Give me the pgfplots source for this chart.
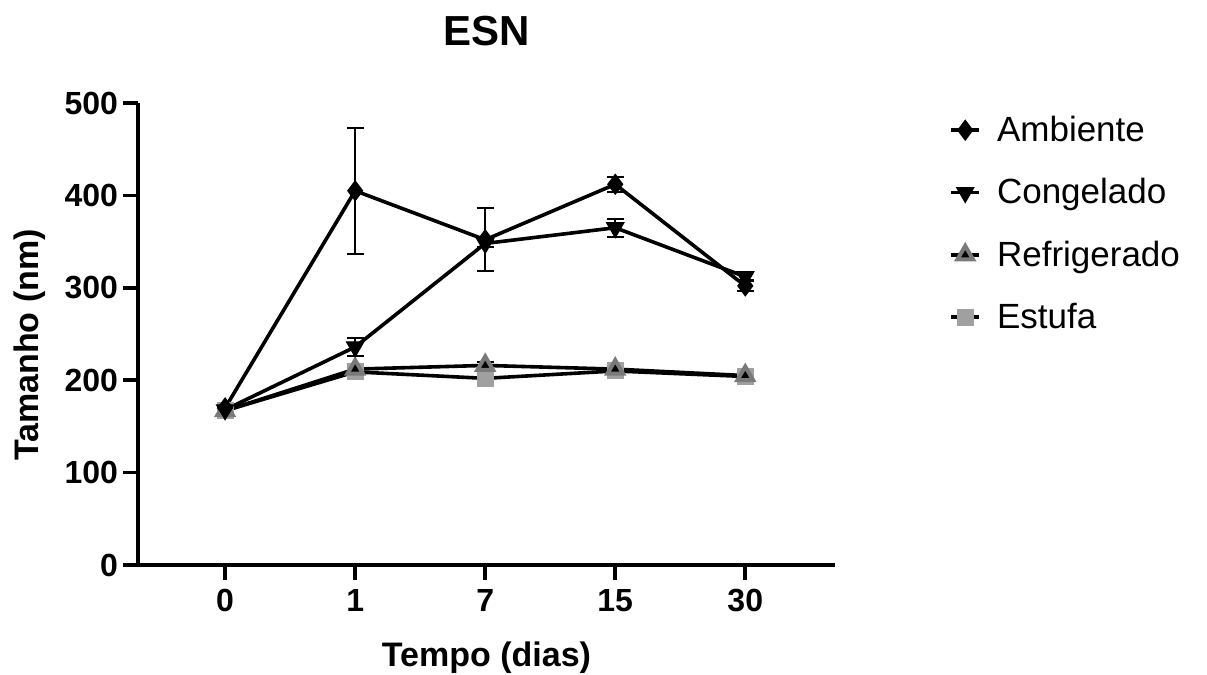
\documentclass[border=0pt]{standalone}
\usepackage{fontspec}
\setmainfont{Liberation Sans}
\usepackage{pgfplots}
\pgfplotsset{compat=1.18}
\definecolor{refg}{HTML}{7A7A7A}
\definecolor{estg}{HTML}{A0A0A0}
\begin{document}
\begin{tikzpicture}
\useasboundingbox (-69pt,-55pt) rectangle (534.5pt,282.5pt);
\begin{axis}[
  at={(0,0)}, anchor=south west,
  scale only axis, width=348.5pt, height=231pt,
  xmin=-0.67, xmax=4.69, ymin=0, ymax=500,
  axis x line*=bottom, axis y line*=left,
  axis line style={-, line width=1.8pt},
  xtick={0,1,2,3,4}, xticklabels={0,1,7,15,30},
  ytick={0,100,200,300,400,500},
  tick align=outside, major tick length=7.5pt,
  every tick/.style={line width=1.8pt, black},
  /pgf/number format/assume math mode=true,
  tick label style={font=\fontsize{16}{18}\selectfont\bfseries},
  yticklabel style={xshift=1pt},
  xticklabel style={yshift=-1pt},
  title={ESN},
  title style={at={(axis description cs:0.5,1.13)}, anchor=center, font=\fontsize{21}{24}\selectfont\bfseries},
  xlabel={Tempo (dias)},
  xlabel style={at={(axis description cs:0.5,-0.2)}, anchor=center, font=\fontsize{17}{20}\selectfont\bfseries},
  ylabel={Tamanho (nm)},
  ylabel style={at={(axis description cs:-0.155,0.476)}, anchor=center, rotate=0, font=\fontsize{17}{20}\selectfont\bfseries},
  legend style={at={(axis description cs:1.155,0.99)}, anchor=north west, draw=none, fill=none,
    font=\fontsize{17.5}{20}\selectfont, row sep=13pt, legend cell align=left,
    /tikz/every odd column/.append style={column sep=6pt}},
  legend image code/.code={\draw[mark repeat=2,mark phase=2] plot coordinates {(0pt,0pt) (7pt,0pt) (14pt,0pt)};},
  reverse legend,
  error bars/error bar style={line width=1pt, black},
  error bars/error mark options={rotate=90, mark size=4.25pt, line width=1pt, black},
]
% Estufa
\addplot[black, line width=1.8pt, mark=square*, mark size=4pt,
  mark options={fill=estg, draw=estg, line width=0.5pt},
  error bars/.cd, y dir=both, y explicit]
  coordinates {(0,167) +- (0,2) (1,209) +- (0,4) (2,202) +- (0,3) (3,210) +- (0,3) (4,204) +- (0,3)};
\addlegendentry{Estufa}
% Refrigerado
\addplot[black, line width=1.8pt, mark=triangle*, mark size=4.5pt,
  mark options={fill=black, draw=refg, line width=2pt},
  error bars/.cd, y dir=both, y explicit]
  coordinates {(0,167) +- (0,2) (1,212) +- (0,6) (2,216) +- (0,4) (3,212) +- (0,4) (4,205) +- (0,3)};
\addlegendentry{Refrigerado}
% Congelado
\addplot[black, line width=1.8pt, mark=triangle*, mark size=5pt,
  mark options={fill=black, rotate=180, line width=0.5pt},
  error bars/.cd, y dir=both, y explicit]
  coordinates {(0,168) +- (0,3) (1,236) +- (0,10) (2,348) +- (0,4) (3,365) +- (0,10) (4,312) +- (0,5)};
\addlegendentry{Congelado}
% Ambiente
\addplot[black, line width=1.8pt, mark=diamond*, mark size=5pt,
  mark options={fill=black, line width=0.5pt},
  error bars/.cd, y dir=both, y explicit]
  coordinates {(0,170) +- (0,3) (1,405) +- (0,68) (2,352) +- (0,34) (3,412) +- (0,8) (4,302) +- (0,6)};
\addlegendentry{Ambiente}
\end{axis}
\end{tikzpicture}
\end{document}
